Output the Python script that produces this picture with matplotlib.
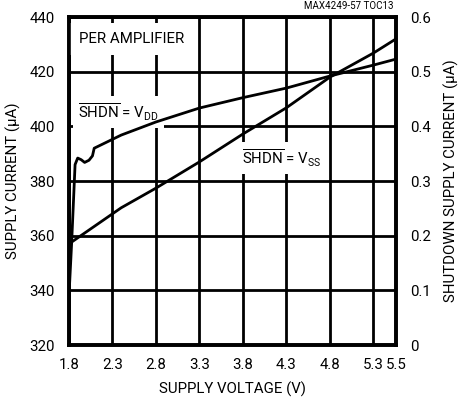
import numpy as np
import matplotlib
matplotlib.use("Agg")
import matplotlib.pyplot as plt

# === DATA ===
VOLT_TICKS = [1.8, 2.3, 2.8, 3.3, 3.8, 4.3, 4.8, 5.3, 5.5]
LEFT_TICKS = [320, 340, 360, 380, 400, 420, 440]
RIGHT_TICKS = [0, 0.1, 0.2, 0.3, 0.4, 0.5, 0.6]
RIGHT_LABELS = ["0", "0.1", "0.2", "0.3", "0.4", "0.5", "0.6"]

# SHDN = VDD, supply current (uA), left axis
vdd_volts = [1.80, 1.83, 1.87, 1.90, 1.94, 1.98, 2.03, 2.07, 2.09,
             2.40, 2.80, 3.30, 3.80, 4.30, 4.80, 5.30, 5.50]
vdd_current = [338.0, 357.0, 386.0, 388.4, 387.8, 386.8, 387.6, 389.2, 392.0,
               396.8, 401.6, 406.7, 410.5, 414.0, 418.4, 422.4, 424.6]

# SHDN = VSS, shutdown supply current (uA), right axis
vss_volts = [1.80, 2.40, 2.80, 3.30, 3.80, 4.30, 4.80, 5.30, 5.50]
vss_current = [0.185, 0.251, 0.287, 0.335, 0.386, 0.434, 0.490, 0.534, 0.560]

FS = 10.8
plt.rcParams["font.family"] = ["Roboto", "DejaVu Sans"]
plt.rcParams["mathtext.fontset"] = "custom"
plt.rcParams["mathtext.rm"] = "Roboto"
plt.rcParams["mathtext.it"] = "Roboto"


# the datasheet axis squeezes 5.3 -> 5.5 into a wider step
def fwd(x):
    x = np.asarray(x, dtype=float)
    return np.where(x <= 5.3, x, 5.3 + (x - 5.3) * 1.3)


def inv(x):
    x = np.asarray(x, dtype=float)
    return np.where(x <= 5.3, x, 5.3 + (x - 5.3) / 1.3)


fig = plt.figure(figsize=(4.59, 4.07), dpi=100)
ax = fig.add_axes([0.1503, 0.1523, 0.7124, 0.8059])
ax.set_xscale("function", functions=(fwd, inv))
ax.set_xlim(1.8, 5.5)
ax.set_ylim(320, 440)

ax.set_xticks(VOLT_TICKS)
ax.set_xticklabels([f"{v:.1f}" for v in VOLT_TICKS], fontsize=FS)
ax.set_yticks(LEFT_TICKS)
ax.set_yticklabels([str(v) for v in LEFT_TICKS], fontsize=FS)
ax.tick_params(axis="both", length=0)
ax.tick_params(axis="x", pad=9)
ax.tick_params(axis="y", pad=10)
ax.xaxis.set_minor_locator(matplotlib.ticker.NullLocator())
ax.grid(True, color="black", linewidth=2.0)
ax.set_axisbelow(True)
for s in ax.spines.values():
    s.set_linewidth(2.6)

ax.plot(vdd_volts, vdd_current, color="black", linewidth=2.0, zorder=5)

ax2 = ax.twinx()
ax2.set_ylim(0, 0.6)
ax2.set_yticks(RIGHT_TICKS)
ax2.set_yticklabels(RIGHT_LABELS, fontsize=FS)
ax2.tick_params(axis="y", length=0, pad=10)
for s in ax2.spines.values():
    s.set_linewidth(2.6)
ax2.plot(vss_volts, vss_current, color="black", linewidth=2.0, zorder=5)

ax.set_xlabel("SUPPLY VOLTAGE (V)", fontsize=FS, labelpad=7)
ax.set_ylabel("SUPPLY CURRENT (\u00b5A)", fontsize=FS, labelpad=6)
ax2.set_ylabel("SHUTDOWN SUPPLY CURRENT (\u00b5A)", fontsize=FS, labelpad=9)

# labels with white boxes that hide the grid behind them
box = dict(facecolor="white", edgecolor="none", pad=4)
ax.text(0.03, 0.955, "PER AMPLIFIER", transform=ax.transAxes, fontsize=FS,
        va="top", ha="left", zorder=3,
        bbox=dict(facecolor="white", edgecolor="none", boxstyle="square,pad=0.6"))
ax.text(0.028, 0.71, r"$\overline{\mathrm{SHDN}}$ = V$_{\mathrm{DD}}$",
        transform=ax.transAxes, fontsize=FS, va="center", ha="left", zorder=3, bbox=box)
ax.text(0.53, 0.57, r"$\overline{\mathrm{SHDN}}$ = V$_{\mathrm{SS}}$",
        transform=ax.transAxes, fontsize=FS, va="center", ha="left", zorder=3, bbox=box)

fig.text(0.858, 0.972, "MAX4249-57 TOC13", fontsize=7, ha="right", va="bottom")

fig.savefig("out.png", dpi=100)
